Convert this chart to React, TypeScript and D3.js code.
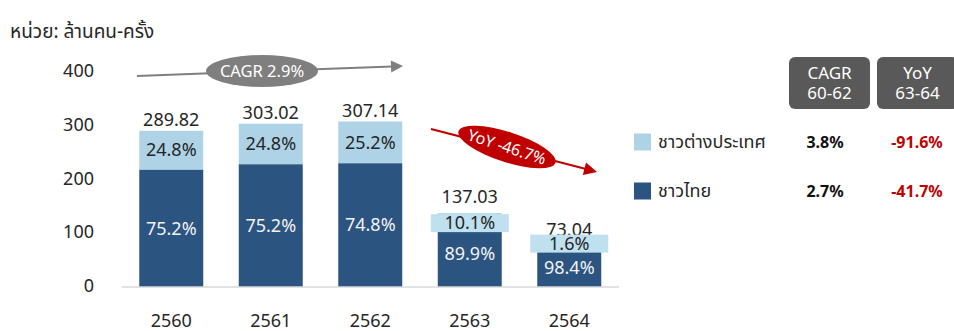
import React from "react";
import * as d3 from "d3";

const years = ["2560", "2561", "2562", "2563", "2564"];
const totals = [289.82, 303.02, 307.14, 137.03, 73.04];
const thaiShare = [75.2, 75.2, 74.8, 89.9, 98.4];
const foreignShare = [24.8, 24.8, 25.2, 10.1, 1.6];
const yTicks = [0, 100, 200, 300, 400];
const legendNames = ["ชาวต่างประเทศ", "ชาวไทย"];
const cagrValues = ["3.8%", "2.7%"];
const yoyValues = ["-91.6%", "-41.7%"];
const headers = [["CAGR", "60-62"], ["YoY", "63-64"]];

const W = 954;
const H = 331;
const DARK = "#2C5480";
const LIGHT = "#AED3E6";
const BOX = "#BFE0EE";
const FONT = "'Noto Sans', 'Noto Sans Thai', 'DejaVu Sans', sans-serif";

function arrowHead(x1: number, y1: number, x2: number, y2: number, len: number, half: number) {
  const a = Math.atan2(y2 - y1, x2 - x1);
  const bx = x2 - len * Math.cos(a);
  const by = y2 - len * Math.sin(a);
  const px = -Math.sin(a) * half;
  const py = Math.cos(a) * half;
  return `M${x2},${y2}L${bx + px},${by + py}L${bx - px},${by - py}Z`;
}

export default function App() {
  const x = d3.scaleBand<string>().domain(years).range([121.5, 619]).paddingInner(0.357).paddingOuter(0.1785);
  const y = d3.scaleLinear().domain([0, 400]).range([287, 71.4]);
  const bw = x.bandwidth();
  // small-bar label box layout (annotation placement)
  const boxShift: Record<number, number> = { 3: 10, 4: -4 };
  const totalShift: Record<number, number> = { 3: -16.5, 4: -17.5 };

  return (
    <svg width={W} height={H} style={{ position: "absolute", left: 0, top: 0, fontFamily: FONT }}>
      <text x={10} y={38} fontSize={19} fill="#262626">หน่วย: ล้านคน-ครั้ง</text>

      {yTicks.map((t) => (
        <text key={t} x={94} y={y(t) - 1} dy="0.35em" textAnchor="end" fontSize={18} fill="#262626">{t}</text>
      ))}

      {years.map((yr, i) => {
        const thai = (totals[i] * thaiShare[i]) / 100;
        const x0 = x(yr)!;
        const cx = x0 + bw / 2;
        const topY = y(totals[i]);
        const midY = y(thai);
        const small = i >= 3;
        return (
          <g key={yr}>
            <rect x={x0} y={midY} width={bw} height={y(0) - midY} fill={DARK} />
            <rect x={x0} y={topY} width={bw} height={midY - topY} fill={LIGHT} />
            <text x={cx} y={(midY + y(0)) / 2} dy="0.35em" textAnchor="middle" fontSize={18} fill="#F2F2F2">
              {thaiShare[i].toFixed(1)}%
            </text>
            {!small && (
              <>
                <text x={cx} y={(topY + midY) / 2} dy="0.35em" textAnchor="middle" fontSize={18} fill="#262626">
                  {foreignShare[i].toFixed(1)}%
                </text>
                <text x={cx} y={topY - 11} dy="0.35em" textAnchor="middle" fontSize={18} fill="#262626">
                  {totals[i].toFixed(2)}
                </text>
              </>
            )}
            {small && (() => {
              const bc = topY + boxShift[i];
              return (
                <>
                  <text x={cx} y={topY + totalShift[i]} dy="0.35em" textAnchor="middle" fontSize={18} fill="#262626">
                    {totals[i].toFixed(2)}
                  </text>
                  <rect x={cx - 39} y={bc - 9} width={78} height={18} fill={BOX} />
                  <text x={cx} y={bc} dy="0.35em" textAnchor="middle" fontSize={18} fill="#262626">
                    {foreignShare[i].toFixed(1)}%
                  </text>
                </>
              );
            })()}
            <text x={cx} y={321} dy="0.35em" textAnchor="middle" fontSize={18} fill="#262626">{yr}</text>
          </g>
        );
      })}

      <line x1={121.5} x2={619} y1={287} y2={287} stroke="#D9D9D9" strokeWidth={1.5} />

      {/* CAGR arrow */}
      <line x1={137} y1={76} x2={392} y2={66.4} stroke="#7F7F7F" strokeWidth={2} />
      <path d={arrowHead(137, 76, 403, 66, 12, 6)} fill="#7F7F7F" />
      <ellipse cx={262} cy={71} rx={56} ry={16} fill="#7F7F7F" />
      <text x={262} y={71} dy="0.35em" textAnchor="middle" fontSize={16.5} fill="#FFFFFF">CAGR 2.9%</text>

      {/* YoY arrow */}
      <line x1={431} y1={129} x2={586} y2={169} stroke="#C00000" strokeWidth={2} />
      <path d={arrowHead(431, 129, 597, 172, 13, 6.5)} fill="#C00000" />
      <g transform="translate(507,147) rotate(18)">
        <ellipse cx={0} cy={0} rx={51} ry={15} fill="#C00000" />
        <text x={0} y={0} dy="0.35em" textAnchor="middle" fontSize={16} fill="#FFFFFF">YoY -46.7%</text>
      </g>

      {/* table headers */}
      {headers.map((h, j) => {
        const bx = j === 0 ? 789 : 877;
        const bwid = 81;
        return (
          <g key={h[0]}>
            <rect x={bx} y={57} width={bwid} height={52} rx={6} fill="#595959" />
            <text x={bx + bwid / 2} y={73} dy="0.35em" textAnchor="middle" fontSize={17} fill="#FFFFFF">{h[0]}</text>
            <text x={bx + bwid / 2} y={93.5} dy="0.35em" textAnchor="middle" fontSize={17} fill="#FFFFFF">{h[1]}</text>
          </g>
        );
      })}

      {legendNames.map((n, k) => {
        const cy = k === 0 ? 142 : 191;
        return (
          <g key={n}>
            <rect x={634} y={cy - 8.5} width={17} height={17} fill={k === 0 ? LIGHT : DARK} />
            <text x={658} y={cy} dy="0.35em" fontSize={18} fill="#262626">{n}</text>
            <text x={825} y={cy} dy="0.35em" textAnchor="middle" fontSize={16} fontWeight="bold" fill="#111111">{cagrValues[k]}</text>
            <text x={917} y={cy} dy="0.35em" textAnchor="middle" fontSize={16} fontWeight="bold" fill="#C00000">{yoyValues[k]}</text>
          </g>
        );
      })}
    </svg>
  );
}
